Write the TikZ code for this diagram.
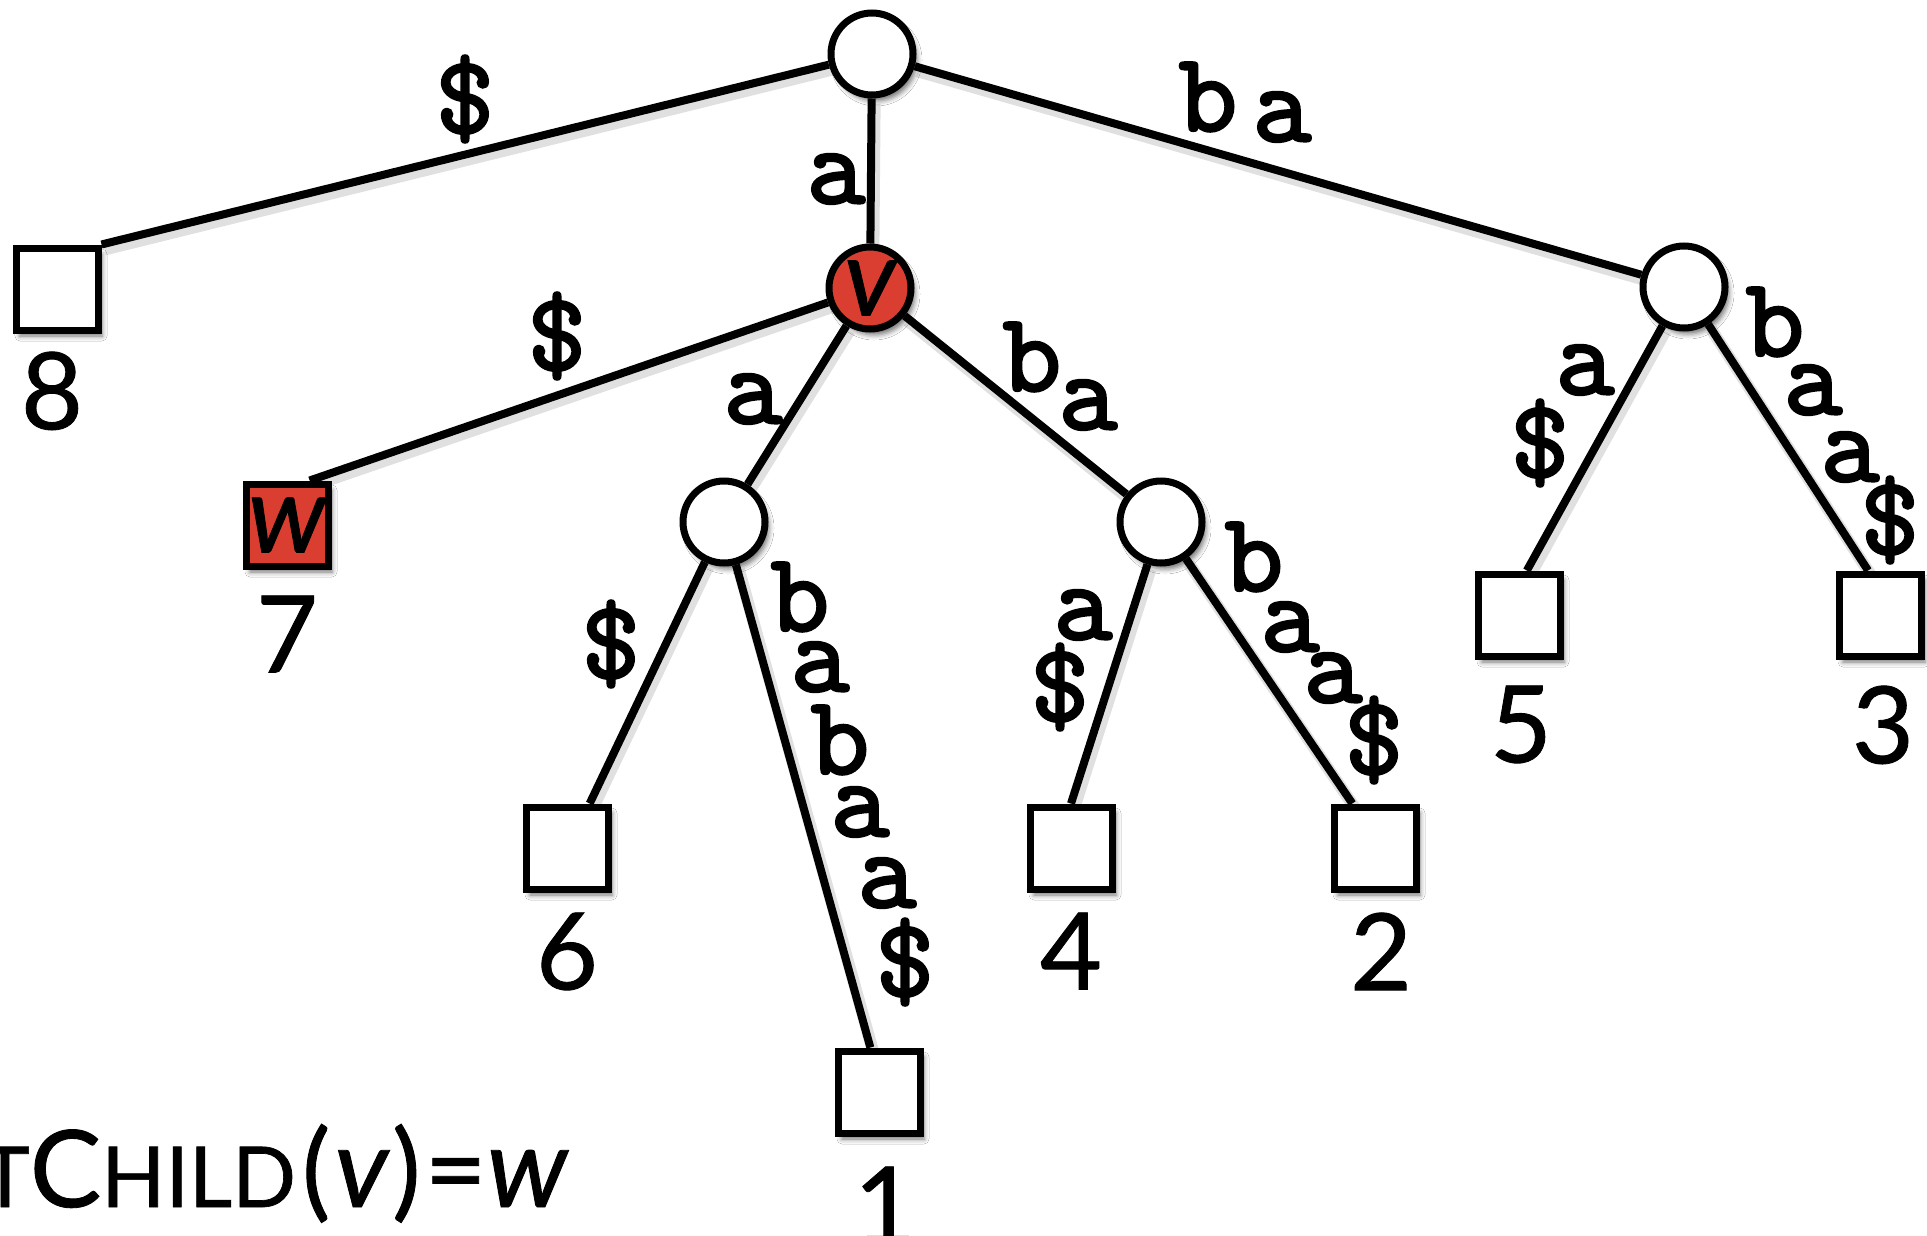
\documentclass[tikz,border=0pt]{standalone}
\usepackage{fontspec}
\setmainfont{Lato}
\newfontfamily\lblfont{lmmono10-regular.otf}[FakeBold=2.2]
\newfontfamily\numfont{Lato}[FakeBold=0.8]
\usetikzlibrary{shadows.blur,calc}
\definecolor{vred}{RGB}{218,62,48}
\pgfdeclarelayer{background}
\pgfdeclarelayer{bottom}
\pgfsetlayers{bottom,background,main}
\tikzset{
  nshadow/.style={blur shadow={shadow xshift=4pt, shadow yshift=-6pt, shadow blur radius=5pt, shadow opacity=55}},
  inner/.style={circle, draw, line width=7pt, minimum size=82pt, inner sep=0pt, fill=white, nshadow},
  leaf/.style={rectangle, draw, line width=7pt, minimum size=82pt, inner sep=0pt, fill=white, nshadow},
  hl/.style={fill=vred, font={\numfont\fontsize{108pt}{108pt}\selectfont\itshape}},
  edgeline/.style={line width=8pt},
  eshadow/.style={line width=12pt, draw=black, opacity=0.12},
  lbl/.style={font={\lblfont\fontsize{112pt}{112pt}\selectfont}, inner sep=0pt},
  num/.style={font={\numfont\fontsize{107pt}{107pt}\selectfont}, inner sep=0pt, anchor=north},
}
\begin{document}
\begin{tikzpicture}[x=1pt,y=-1pt]
\useasboundingbox (0,0) rectangle (1927,1236);
% internal nodes
\node[inner] (root) at (872,54) {};
\node[inner,hl] (v) at (870,288) {v};
\node[inner] (R) at (1684,287) {};
\node[inner] (LM) at (724,522) {};
\node[inner] (RM) at (1161,522) {};
% leaves
\node[leaf] (s8) at (57,289) {};
\node[leaf,hl] (w) at (287,525) {w};
\node[leaf] (s6) at (567,848) {};
\node[leaf] (s1) at (879,1092) {};
\node[leaf] (s4) at (1071,848) {};
\node[leaf] (s2) at (1375,848) {};
\node[leaf] (s5) at (1519,615) {};
\node[leaf] (s3) at (1880,615) {};
% white page under everything
\begin{pgfonlayer}{bottom}
\fill[white] (0,0) rectangle (1927,1236);
\end{pgfonlayer}
% edges
\begin{pgfonlayer}{background}
\foreach \a/\b in {root/s8.north east, root/v, root/R, v/w.63, v/LM, v/RM, LM/s6.63, LM/s1.101, RM/s4.north, RM/s2.117, R/s5.80, R/s3.105} {
  \draw[eshadow, transform canvas={shift={(3pt,-5pt)}}] (\a) -- (\b);
  \draw[edgeline] (\a) -- (\b);
}
\end{pgfonlayer}
% edge labels
\foreach \x/\y/\t [count=\i] in {465/99/\$, 836/179/a, 1208/97/b, 1282/117/a, 557/336/\$, 753/399/a, 1032/357/b, 1088/405/a, 1585/370/a, 1540/443/\$, 1775/322/b, 1813/390/a, 1850/457/a, 1890/520/\$, 611/644/\$, 800/597/b, 820/667/a, 840/740/b, 860/812/a, 887/883/a, 905/962/\$, 1083/615/a, 1060/687/\$, 1254/557/b, 1290/627/a, 1333/678/a, 1374/740/\$} {
  \node[lbl] (l\i) at (\x,\y) {\t};
}
% leaf numbers
\node[num] (n8) at ([xshift=-5pt,yshift=-18pt]s8.south) {8};
\node[num] (n7) at ([yshift=-26pt]w.south) {7};
\node[num] (n6) at ([yshift=-20pt]s6.south) {6};
\node[num] (n1) at ([xshift=6pt,yshift=-30pt]s1.south) {1};
\node[num] (n4) at ([yshift=-20pt]s4.south) {4};
\node[num] (n2) at ([xshift=6pt,yshift=-20pt]s2.south) {2};
\node[num] (n5) at ([xshift=2pt,yshift=-26pt]s5.south) {5};
\node[num] (n3) at ([xshift=3pt,yshift=-26pt]s3.south) {3};
% caption
\node[anchor=base west, inner sep=0pt, font={\numfont\fontsize{107pt}{107pt}\selectfont}] (fc) at (-20,1207)
  {{\fontsize{84pt}{84pt}\selectfont T}C{\fontsize{84pt}{84pt}\selectfont HILD}\kern6pt(\kern4pt{\fontsize{112pt}{112pt}\selectfont\itshape v}\kern4pt)\kern4pt={\fontsize{112pt}{112pt}\selectfont\itshape w}};
\end{tikzpicture}
\end{document}
